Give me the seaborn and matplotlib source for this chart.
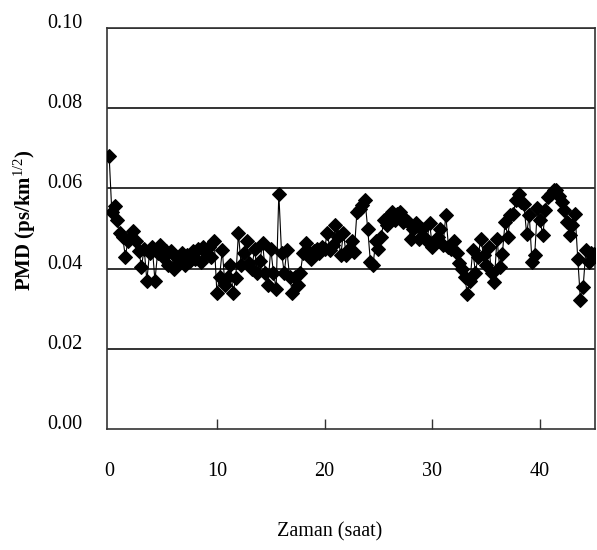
import numpy as np
import pandas as pd
import matplotlib
matplotlib.use("Agg")
import matplotlib.pyplot as plt
import matplotlib.transforms as mtransforms
import seaborn as sns

# ---- data (hours, PMD values) ----
sample_step_h = 0.25
pmd = [
    0.068, 0.054, 0.0555, 0.052, 0.049, 0.048, 0.043, 0.047, 0.048, 0.0495,
    0.047, 0.0445, 0.0405, 0.045, 0.037, 0.044, 0.0455, 0.037, 0.044, 0.0458,
    0.043, 0.0445, 0.041, 0.0445, 0.040, 0.043, 0.0415, 0.044, 0.041, 0.0435,
    0.042, 0.0445, 0.0425, 0.045, 0.0417, 0.0454, 0.044, 0.0454, 0.043, 0.047,
    0.034, 0.038, 0.0446, 0.036, 0.038, 0.041, 0.034, 0.0376, 0.0488, 0.041,
    0.044, 0.047, 0.0413, 0.040, 0.045, 0.039, 0.042, 0.0463, 0.039, 0.036,
    0.045, 0.039, 0.035, 0.0587, 0.044, 0.039, 0.0446, 0.038, 0.034, 0.038,
    0.036, 0.039, 0.0438, 0.0463, 0.0445, 0.0425, 0.0445, 0.045, 0.044, 0.0455,
    0.045, 0.049, 0.0446, 0.046, 0.0508, 0.048, 0.0433, 0.049, 0.0433, 0.045,
    0.047, 0.0441, 0.0541, 0.0549, 0.0558, 0.057, 0.050, 0.0417, 0.041, 0.047,
    0.045, 0.0479, 0.052, 0.0508, 0.053, 0.0541, 0.052, 0.0535, 0.0541, 0.0516,
    0.0524, 0.0516, 0.0475, 0.050, 0.0513, 0.0475, 0.050, 0.048, 0.047, 0.0513,
    0.0455, 0.047, 0.048, 0.050, 0.046, 0.0533, 0.0455, 0.045, 0.047, 0.0438,
    0.0413, 0.040, 0.038, 0.0337, 0.037, 0.0446, 0.039, 0.043, 0.0475, 0.0433,
    0.041, 0.0454, 0.0388, 0.0367, 0.0475, 0.0404, 0.0436, 0.0516, 0.048, 0.0533,
    0.0535, 0.057, 0.0587, 0.0566, 0.0562, 0.0487, 0.0533, 0.0417, 0.0433, 0.055,
    0.052, 0.0483, 0.0545, 0.0578, 0.0587, 0.0597, 0.0595, 0.058, 0.0566, 0.0545,
    0.0516, 0.0483, 0.0508, 0.0537, 0.0425, 0.0321, 0.0354, 0.0446, 0.0417, 0.0438,
    0.0436,
]
hours = np.arange(len(pmd)) * sample_step_h
x_ticks = [0, 10, 20, 30, 40]
y_ticks = [0.00, 0.02, 0.04, 0.06, 0.08, 0.10]
x_label = "Zaman (saat)"
y_label = r"PMD (ps/km$^{1/2}$)"

df = pd.DataFrame({"Zaman": hours, "PMD": pmd})

sns.set_style("white")
plt.rcParams["font.family"] = ["Liberation Serif", "DejaVu Serif"]
plt.rcParams["mathtext.fontset"] = "custom"
plt.rcParams["mathtext.rm"] = "Liberation Serif"
plt.rcParams["mathtext.it"] = "Liberation Serif"
plt.rcParams["mathtext.bf"] = "Liberation Serif:bold"
plt.rcParams["text.color"] = "black"
plt.rcParams["axes.labelcolor"] = "black"
plt.rcParams["xtick.color"] = "black"
plt.rcParams["ytick.color"] = "black"

fig = plt.figure(figsize=(5.97, 5.50), dpi=100)
ax = fig.add_axes([107 / 597, (550 - 429) / 550, (595 - 107) / 597, (429 - 28) / 550])

for v in y_ticks[1:]:
    ax.axhline(v, color="#333333", lw=1.4, zorder=1)

sns.lineplot(data=df, x="Zaman", y="PMD", ax=ax, color="black", lw=0.8,
             marker="D", markersize=7.2, markeredgecolor="black",
             markerfacecolor="black", zorder=3, legend=False)

ax.set_xlim(-0.2, 45.1)
ax.set_ylim(0, 0.10)
ax.set_xticks(x_ticks)
ax.set_yticks(y_ticks)
ax.set_xticklabels([str(t) for t in x_ticks])
ax.set_yticklabels([f"{t:.2f}" for t in y_ticks])

ax.tick_params(axis="x", direction="in", length=7, width=1, color="#333333",
               pad=24, labelsize=14.5, bottom=True)
ax.tick_params(axis="y", left=False, pad=14, labelsize=14.5)
ax.xaxis.get_major_ticks()[0].tick1line.set_visible(False)

offset = mtransforms.ScaledTranslation(0, 7 / 100, fig.dpi_scale_trans)
for lab in ax.get_yticklabels():
    lab.set_transform(lab.get_transform() + offset)

for side in ["left", "right", "bottom", "top"]:
    ax.spines[side].set_visible(True)
    ax.spines[side].set_color("#333333")
    ax.spines[side].set_linewidth(1.2)

ax.set_xlabel(x_label, fontsize=14.5)
ax.xaxis.label.set_va("center")
ax.xaxis.set_label_coords((330 - 107) / 488, (429 - 532) / 401)
ax.set_ylabel(y_label, fontsize=15, fontweight="bold")
ax.yaxis.label.set_va("center")
ax.yaxis.set_label_coords((25 - 107) / 488, (429 - 220) / 401)

fig.savefig("out.png", dpi=100)
